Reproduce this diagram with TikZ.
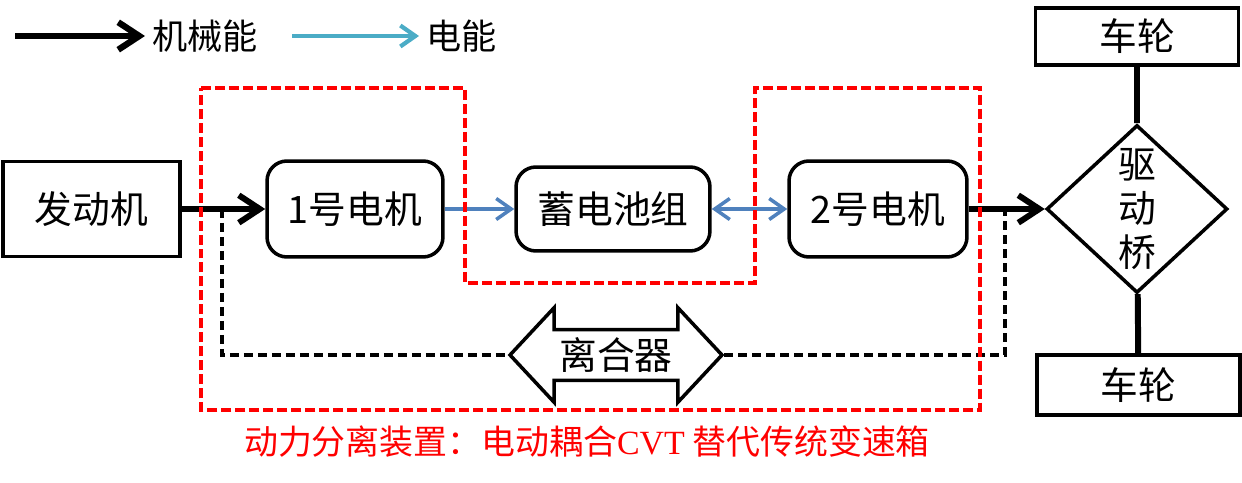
\documentclass[tikz,border=0pt]{standalone}
\usepackage{fontspec}
\setmainfont{Noto Sans CJK SC}
\newfontfamily\latinserif{Liberation Serif}
\usetikzlibrary{arrows.meta,shapes.geometric,shapes.arrows}

\definecolor{elecblue}{HTML}{4F81BD}
\definecolor{legendblue}{HTML}{4BACC6}

\tikzset{
    box/.style={draw, line width=2pt, minimum width=3.54cm, minimum height=1.9cm,
        font=\fontsize{21.5}{25}\selectfont},
    motor/.style={box, rounded corners=0.4cm},
    mech/.style={line width=3.4pt, -{Straight Barb[length=0.42cm,width=0.55cm]}},
    elec/.style={line width=2pt, draw=elecblue, -{Straight Barb[length=0.3cm,width=0.42cm]}},
    link/.style={line width=2.6pt, dash pattern=on 0.18cm off 0.1cm},
    zone/.style={draw=red, line width=2.2pt, dash pattern=on 0.2cm off 0.08cm},
    legend/.style={anchor=west, inner sep=0.14cm, font=\fontsize{20}{24}\selectfont}
}

\begin{document}
\begin{tikzpicture}[x=0.02cm, y=-0.02cm]
    \useasboundingbox (0,0) rectangle (1242,483);

    % legend
    \coordinate (mechtail) at (15,36);
    \node[legend] (mechtext) at (145,36) {机械能};
    \draw[mech, line width=3.6pt] (mechtail) -- (mechtext.west);
    \coordinate (electail) at (292,36);
    \node[legend] (electext) at (419,36) {电能};
    \draw[elec, draw=legendblue, line width=2.4pt] (electail) -- (electext.west);

    % power train
    \node[box] (engine) at (91.5,209) {发动机};
    \node[motor, minimum width=3.52cm, minimum height=1.92cm] (motorA) at (355,209) {1号电机};
    \node[motor, minimum width=3.88cm, minimum height=1.68cm] (battery) at (613,209) {蓄电池组};
    \node[motor, minimum width=3.56cm, minimum height=1.92cm] (motorB) at (878,209) {2号电机};
    \node[diamond, draw, line width=2pt, minimum width=3.62cm, minimum height=3.36cm,
        inner sep=0pt, align=center, font=\fontsize{21.5}{25}\selectfont] (axle) at (1137,209) {驱\\动\\桥};
    \node[box, minimum width=4.06cm, minimum height=1.14cm] (wheelT) at (1137,36.5) {车轮};
    \node[box, minimum width=4.06cm, minimum height=1.2cm] (wheelB) at (1138.5,385) {车轮};

    \draw[mech] (engine) -- (motorA);
    \draw[elec] (motorA) -- (battery);
    \draw[elec, {Straight Barb[length=0.3cm,width=0.42cm]}-{Straight Barb[length=0.3cm,width=0.42cm]}] (battery) -- (motorB);
    \draw[mech] (motorB) -- (axle);
    \draw[line width=3.4pt] (wheelT) -- (axle) -- (wheelB);

    % clutch branch
    \node[double arrow, draw, line width=2pt, minimum height=4.24cm, double arrow head extend=0.44cm,
        double arrow tip angle=94, inner xsep=0pt, inner ysep=0.12cm,
        font=\fontsize{21.5}{25}\selectfont] (clutch) at (616,355) {离合器};
    \coordinate (splitL) at (222,209);
    \coordinate (splitR) at (1005,209);
    \draw[link] (splitL) |- (clutch.west);
    \draw[link] (clutch.east) -| (splitR);

    % coupling zone
    \draw[zone] (201,88) -- (465,88) -- (465,283) -- (755,283) -- (755,88)
        -- (980,88) -- (980,410) -- (201,410) -- cycle;
    \node[text=red, font=\fontsize{19.3}{23}\selectfont] (caption) at (587,442)
        {动力分离装置：电动耦合{\latinserif CVT} 替代传统变速箱};
\end{tikzpicture}
\end{document}
